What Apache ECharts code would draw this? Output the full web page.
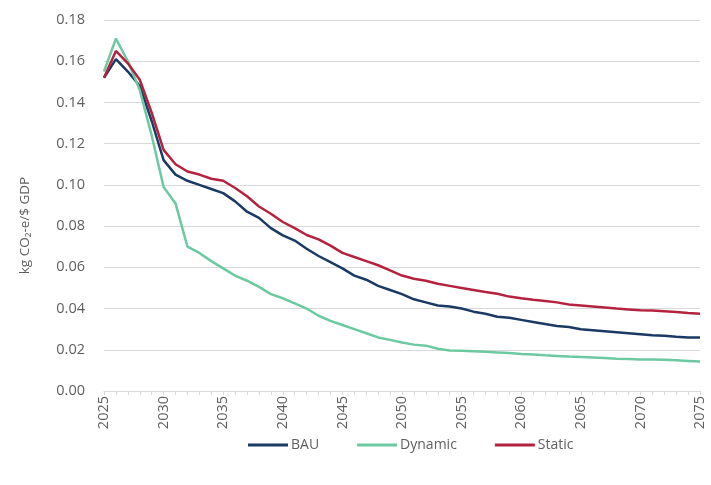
<!DOCTYPE html>
<html>
<head>
<meta charset="utf-8">
<script src="https://cdn.jsdelivr.net/npm/echarts@6/dist/echarts.min.js"></script>
<style>
  html, body { margin: 0; padding: 0; background: #fff; }
  #chart { width: 711px; height: 485px; }
</style>
</head>
<body>
<div id="chart"></div>
<script>
const years = []
for (let y = 2025; y <= 2075; y++) years.push(String(y))

const bau = [
  0.152, 0.161, 0.155, 0.148, 0.131, 0.112, 0.105, 0.102, 0.100, 0.098,
  0.096, 0.092, 0.087, 0.084, 0.079, 0.0755, 0.073, 0.069, 0.0655, 0.0625,
  0.0595, 0.056, 0.054, 0.051, 0.049, 0.047, 0.0445, 0.043, 0.0415, 0.041,
  0.040, 0.0385, 0.0375, 0.036, 0.0355, 0.0345, 0.0335, 0.0325, 0.0315, 0.031,
  0.030, 0.0295, 0.029, 0.0285, 0.028, 0.0275, 0.027, 0.0268, 0.0263, 0.026,
  0.026
]
const dynamic = [
  0.155, 0.171, 0.160, 0.146, 0.124, 0.099, 0.091, 0.070, 0.067, 0.063,
  0.0595, 0.056, 0.0535, 0.0505, 0.047, 0.045, 0.0425, 0.040, 0.0365, 0.034,
  0.032, 0.030, 0.028, 0.026, 0.0248, 0.0235, 0.0225, 0.022, 0.0205, 0.0197,
  0.0195, 0.0193, 0.019, 0.0187, 0.0184, 0.018, 0.0177, 0.0173, 0.017, 0.0167,
  0.0165, 0.0163, 0.016, 0.0157, 0.0155, 0.0153, 0.0153, 0.0152, 0.0149, 0.0146,
  0.0143
]
const staticS = [
  0.152, 0.165, 0.159, 0.151, 0.135, 0.117, 0.110, 0.1065, 0.105, 0.103,
  0.102, 0.0985, 0.0945, 0.0895, 0.086, 0.082, 0.079, 0.0757, 0.0736, 0.0705,
  0.067, 0.065, 0.063, 0.061, 0.0585, 0.056, 0.0545, 0.0535, 0.052, 0.051,
  0.050, 0.049, 0.048, 0.0472, 0.0458, 0.045, 0.0443, 0.0437, 0.043, 0.042,
  0.0415, 0.041, 0.0405, 0.040, 0.0396, 0.0392, 0.039, 0.0387, 0.0383, 0.0378,
  0.0375
]

const font = 'Open Sans, Noto Sans, sans-serif'
const txt = '#5f5f5f'
const chart = echarts.init(document.getElementById('chart'), null, { renderer: 'canvas' })

const line = (name, data, color) => ({
  name, type: 'line', data, symbol: 'none', smooth: false,
  lineStyle: { color, width: 2.5 }, itemStyle: { color }
})

chart.setOption({
  animation: false,
  backgroundColor: '#fff',
  grid: { left: 104, right: 11, top: 20, bottom: 94 },
  legend: {
    bottom: 28, left: 243,
    icon: 'rect', itemWidth: 40, itemHeight: 3, itemGap: 38,
    textStyle: { color: txt, fontSize: 14, fontFamily: font, padding: [0, 0, 0, -2] },
    data: ['BAU', 'Dynamic', 'Static']
  },
  xAxis: {
    type: 'category', data: years, boundaryGap: false,
    axisLine: { lineStyle: { color: '#d9d9d9' } },
    axisTick: { show: true, interval: 0, length: 4, lineStyle: { color: '#d9d9d9' } },
    axisLabel: { interval: 4, rotate: 90, color: txt, fontSize: 14.5, fontFamily: font, margin: 5 }
  },
  yAxis: {
    type: 'value', min: 0, max: 0.18, interval: 0.02,
    name: 'kg CO₂-e/$ GDP', nameLocation: 'middle', nameGap: 72,
    nameTextStyle: { color: txt, fontSize: 13.5, fontFamily: font, padding: [0, 40, 0, 0] },
    axisLine: { show: false }, axisTick: { show: false },
    axisLabel: { color: txt, fontSize: 14.5, fontFamily: font, margin: 19, formatter: v => v.toFixed(2) },
    splitLine: { lineStyle: { color: '#d9d9d9' } }
  },
  series: [
    line('BAU', bau, '#1b3a63'),
    line('Dynamic', dynamic, '#6dc9a1'),
    line('Static', staticS, '#b5223f')
  ]
})
</script>
</body>
</html>
